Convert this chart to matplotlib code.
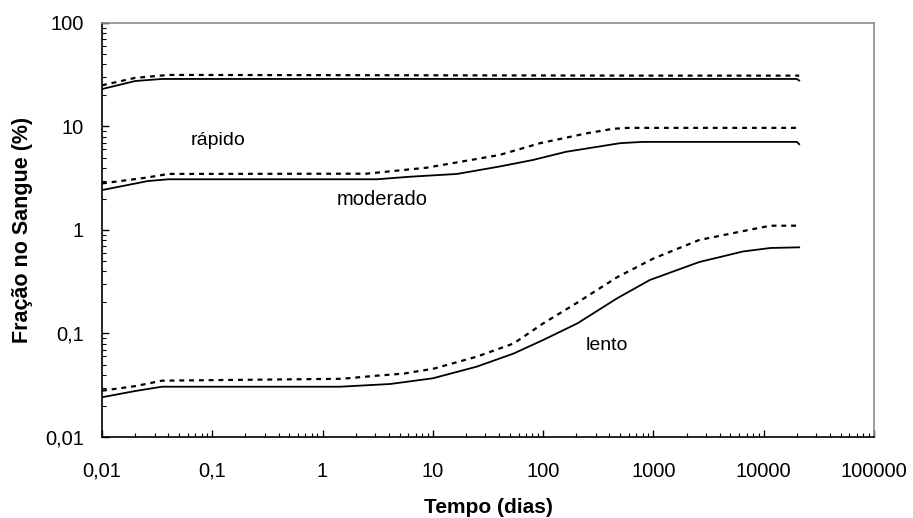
import matplotlib
matplotlib.use("Agg")
import matplotlib.pyplot as plt
from matplotlib.ticker import FixedLocator, FixedFormatter, LogLocator, NullFormatter

plt.rcParams['font.family'] = ['Liberation Sans', 'DejaVu Sans']

# tempo (dias) e fracao no sangue (%)
rap_t = [0.01, 0.02, 0.035, 1000, 20000, 21000]
rap_solid = [23.0, 27.5, 28.8, 28.8, 28.8, 27.8]
rap_t_d = [0.01, 0.02, 0.04, 1000, 21000]
rap_dash = [25.0, 29.5, 31.5, 31.0, 31.0]

mod_t = [0.01, 0.026, 0.04, 3.1, 6.2, 16.6, 40, 81, 162, 500, 800, 20000, 21000]
mod_solid = [2.43, 2.97, 3.09, 3.09, 3.27, 3.48, 4.1, 4.75, 5.7, 6.9, 7.1, 7.1, 6.75]
mod_t_d = [0.01, 0.025, 0.04, 2.5, 8.8, 40, 94, 250, 430, 600, 21000]
mod_dash = [2.82, 3.2, 3.48, 3.5, 4.0, 5.3, 6.9, 8.6, 9.5, 9.7, 9.7]

len_t = [0.01, 0.02, 0.035, 1.44, 4.1, 10, 25, 54, 100, 204, 470, 930, 2600,
         6500, 11500, 21000]
len_solid = [0.0242, 0.0278, 0.0306, 0.0306, 0.0325, 0.0369, 0.0478, 0.064,
             0.0865, 0.125, 0.219, 0.329, 0.49, 0.62, 0.67, 0.68]
len_t_d = [0.01, 0.02, 0.035, 1.5, 3.0, 5.5, 7.6, 10, 25, 54, 100, 200, 470,
           1000, 2600, 8000, 11500, 21000]
len_dash = [0.028, 0.031, 0.035, 0.0365, 0.039, 0.041, 0.0435, 0.0455, 0.0597,
            0.080, 0.125, 0.196, 0.35, 0.53, 0.80, 1.02, 1.10, 1.10]

x_ticks = [0.01, 0.1, 1, 10, 100, 1000, 10000, 100000]
x_labels = ['0,01', '0,1', '1', '10', '100', '1000', '10000', '100000']
y_ticks = [0.01, 0.1, 1, 10, 100]
y_labels = ['0,01', '0,1', '1', '10', '100']

fig = plt.figure(figsize=(9.13, 5.18), dpi=100)
ax = fig.add_axes([0.1117, 0.1564, 0.8455, 0.7992])

for t, y in [(rap_t, rap_solid), (mod_t, mod_solid), (len_t, len_solid)]:
    ax.plot(t, y, color='black', lw=1.3, solid_joinstyle='round')
for t, y in [(rap_t_d, rap_dash), (mod_t_d, mod_dash), (len_t_d, len_dash)]:
    ax.plot(t, y, color='black', lw=1.6, dashes=(2.2, 2.2))

ax.set_xscale('log')
ax.set_yscale('log')
ax.set_xlim(0.01, 100000)
ax.set_ylim(0.01, 100)

ax.xaxis.set_major_locator(FixedLocator(x_ticks))
ax.xaxis.set_major_formatter(FixedFormatter(x_labels))
ax.yaxis.set_major_locator(FixedLocator(y_ticks))
ax.yaxis.set_major_formatter(FixedFormatter(y_labels))
ax.xaxis.set_minor_locator(LogLocator(base=10, subs=range(2, 10), numticks=20))
ax.yaxis.set_minor_locator(LogLocator(base=10, subs=range(2, 10), numticks=20))
ax.xaxis.set_minor_formatter(NullFormatter())
ax.yaxis.set_minor_formatter(NullFormatter())

ax.tick_params(which='major', direction='in', length=5, width=1, labelsize=14.5)
ax.tick_params(axis='x', which='major', pad=18)
ax.tick_params(axis='y', which='major', pad=13)
ax.tick_params(which='minor', direction='in', length=3, width=0.8)
ax.tick_params(top=False, right=False, which='both')

for s in ['left', 'bottom']:
    ax.spines[s].set_color('black')
    ax.spines[s].set_linewidth(1.2)
for s in ['top', 'right']:
    ax.spines[s].set_color('#8c8c8c')
    ax.spines[s].set_linewidth(1.2)

ax.text(0.113, 7.4, 'rápido', fontsize=14, ha='center', va='center')
ax.text(3.5, 1.95, 'moderado', fontsize=14.5, ha='center', va='center')
ax.text(380, 0.076, 'lento', fontsize=14, ha='center', va='center')

ax.set_xlabel('Tempo (dias)', fontsize=15, fontweight='bold', labelpad=12)
ax.set_ylabel('Fração no Sangue (%)', fontsize=15.5, fontweight='bold', labelpad=9)

fig.savefig('out.png', dpi=100)
